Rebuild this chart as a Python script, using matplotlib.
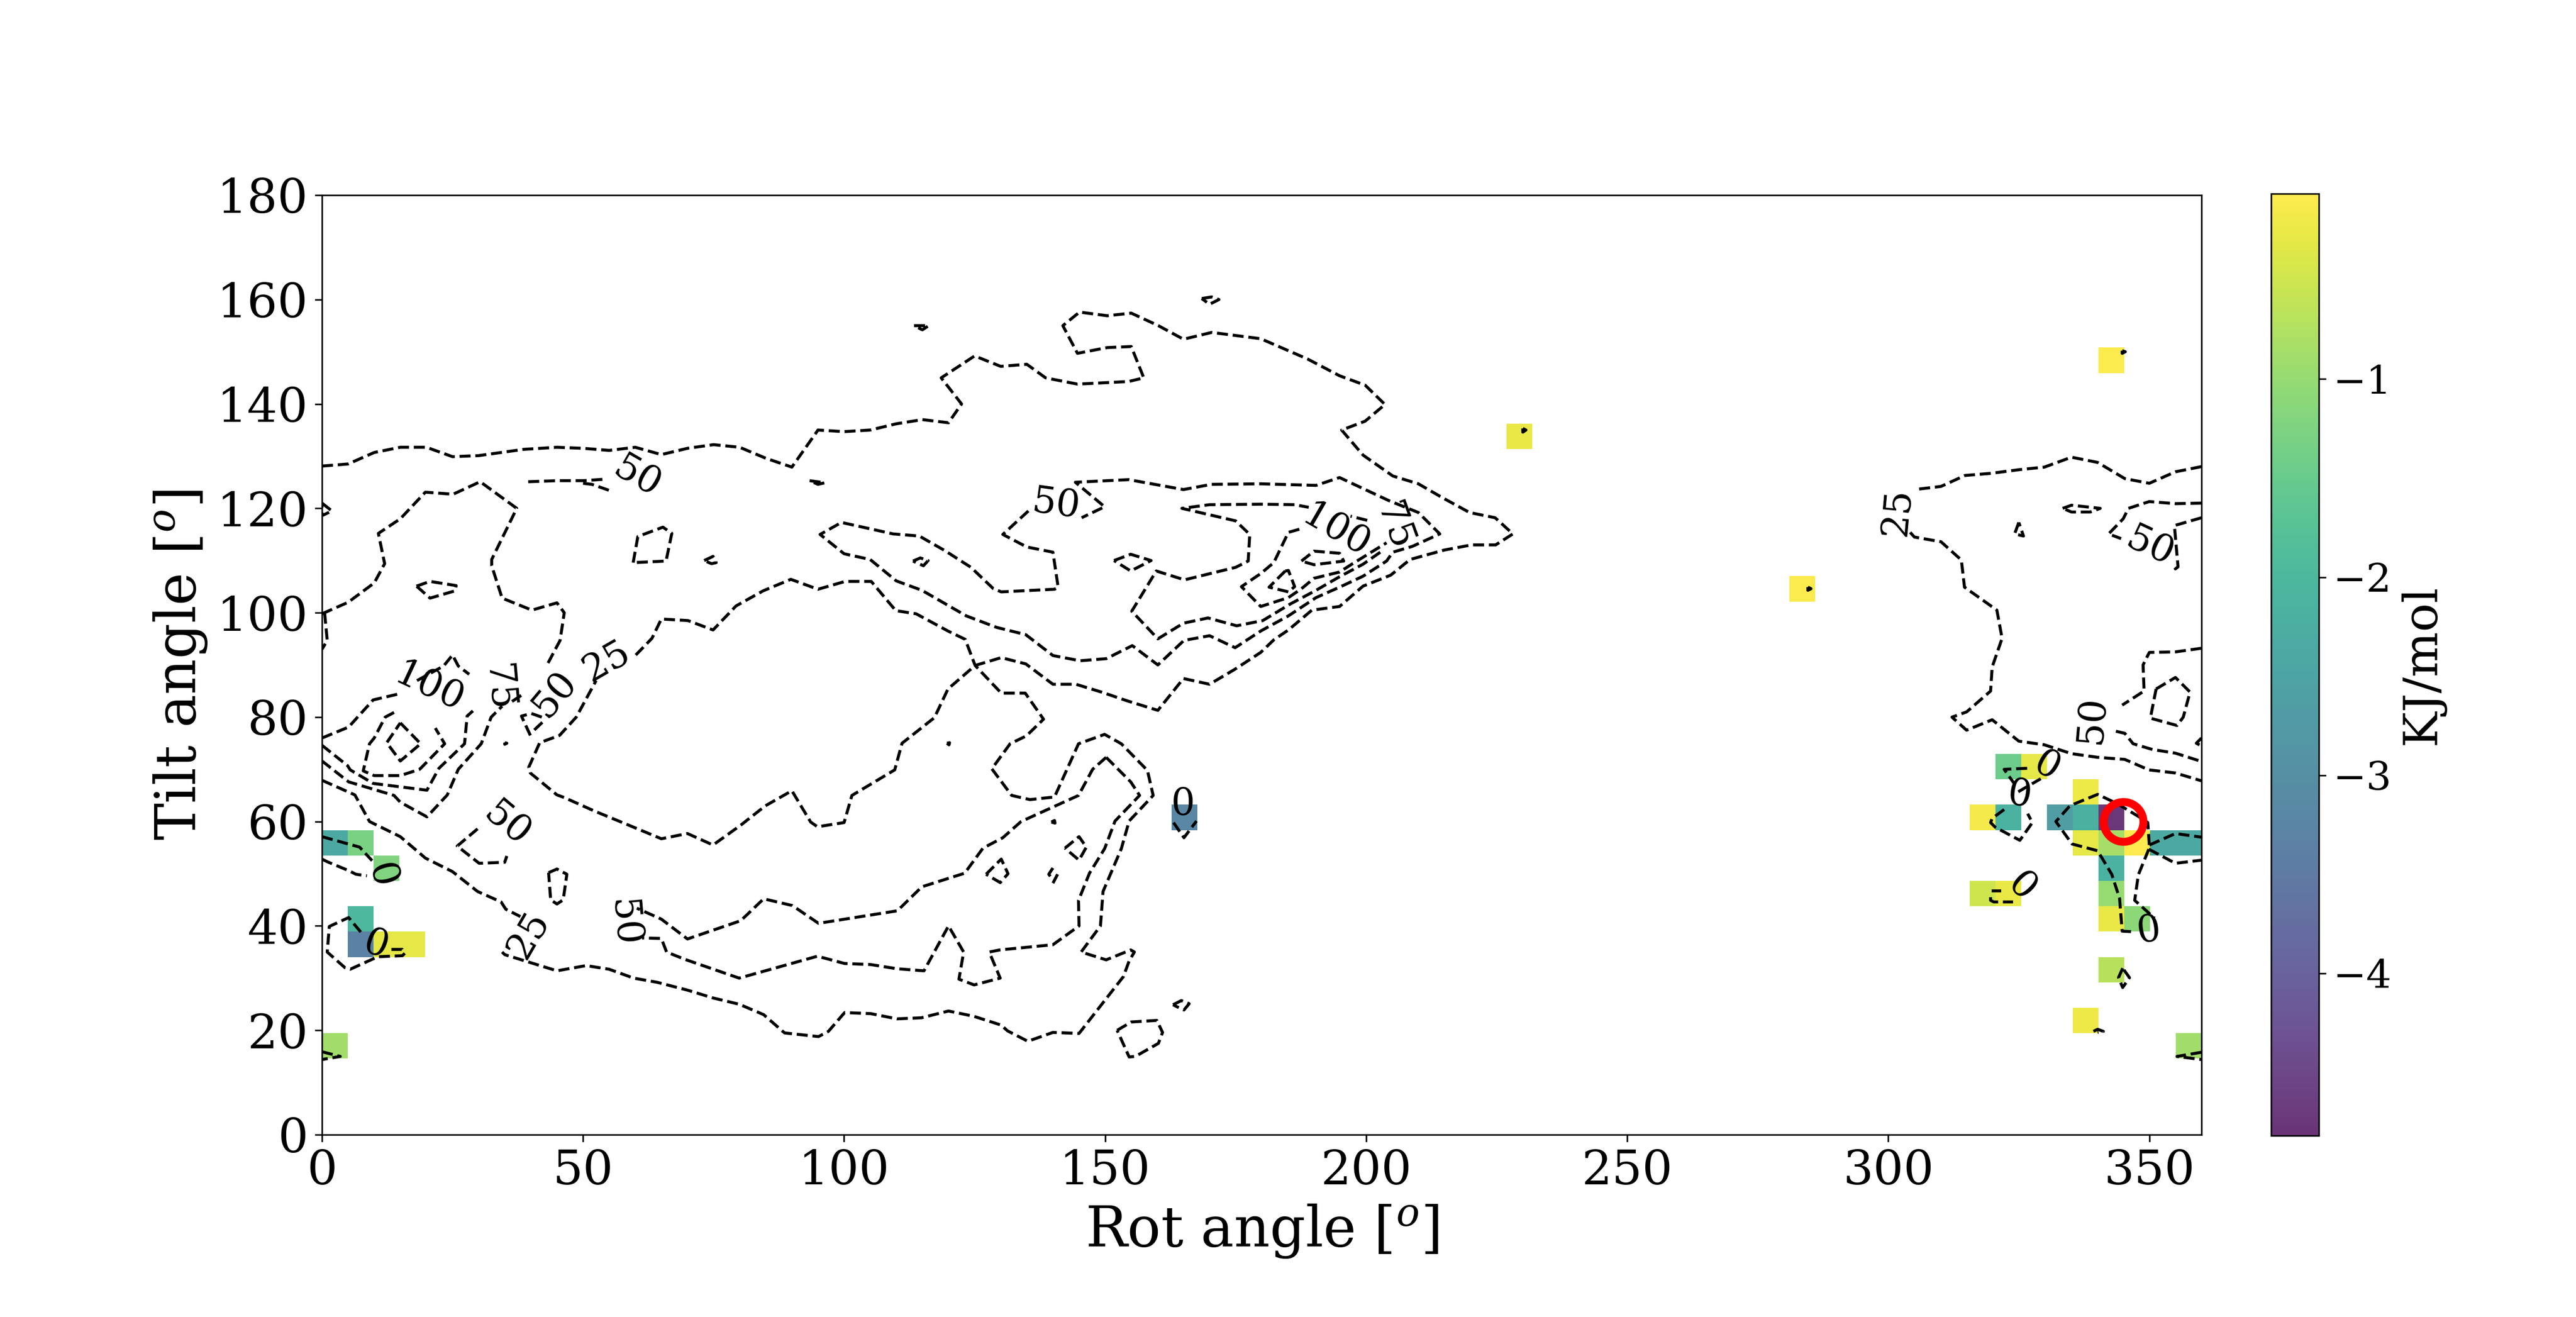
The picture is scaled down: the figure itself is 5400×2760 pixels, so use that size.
import numpy as np
import matplotlib
matplotlib.use("Agg")
import matplotlib.pyplot as plt

plt.rcParams['font.family'] = ['DejaVu Serif']
plt.rcParams['mathtext.fontset'] = 'dejavuserif'

# energy cells on the 73 x 37 grid: (column, row, kJ/mol)
cell_cols = [0, 1, 2, 1, 1, 2, 3, 0, 33, 46, 57, 69,
             65, 66, 68, 64, 65, 67, 68, 69, 68, 69, 70, 71, 72,
             69, 69, 69, 70, 64, 65, 69, 68, 72]
cell_rows = [11, 11, 10, 8, 7, 7, 7, 3, 12, 27, 21, 30,
             14, 14, 13, 12, 12, 12, 12, 12, 11, 11, 11, 11, 11,
             10, 9, 8, 8, 9, 9, 6, 4, 3]
cell_vals = [-2.35, -1.3, -1.2, -2.0, -3.3, -0.3, -0.3, -0.9, -3.2, -0.25, -0.1, -0.1,
             -1.45, -0.3, -0.22, -0.15, -2.15, -2.65, -2.2, -4.75, -0.3, -0.85, -0.07, -2.35, -2.35,
             -2.15, -1.0, -0.25, -1.1, -0.5, -0.25, -0.7, -0.2, -0.9]
energy_min = -4.82
energy_max = -0.064

# open contour lines (rot, tilt)
line_top = [(0,128.1),(5,128.5),(10,130.7),(15,131.7),(20,131.7),(25,129.9),(30,130.1),(38.6,131.3),(45,131.7),(50,131.5),(55,131.1),(60,131.7),(65,130.3),(70,131.5),(75,132.2),(80,131.7),(85,129.6),(90,127.9),(95,135),(100,134.7),(105,135),(110,136.2),(115,137),(120,136.4),(122.5,140),(118.6,145),(125,149.2),(130,147.2),(135,147.6),(138.6,145),(144.7,143.8),(154.5,144.3),(157.4,145),(155,151),(150.4,150.8),(144.7,149.7),(141.9,155),(145.1,157.6),(150.4,156.9),(155,157.4),(160.2,155),(165,152.4),(170.4,153.7),(179.8,152.5),(188.8,148.6),(194.9,145.4),(199.8,143.6),(203.6,139.9),(199.8,136.7),(195.3,135),(199.4,130.2),(205.1,126.2),(210,124.7),(214.5,122.1),(219.8,119.2),(224.7,118.2),(228.1,115.1),(224.8,113),(220.2,113),(214.9,112),(208.4,110.2),(204.7,107.2),(199.4,105.1),(194.9,101.2),(189.6,100.5),(185.1,96.7),(182.3,94.8),(179.8,92.4),(174.9,89.2),(170,86.3),(165,87.4),(160.1,81.3),(154.3,83.1),(149.3,84.8),(144.4,86.3),(140,86.3),(134.8,90.2),(130.1,91.4),(125.1,89.9),(119.9,85.4),(117.3,79.9),(111.1,75),(109.7,69.9),(101.5,65),(100,59.8),(94.9,59),(93.6,59.9),(90,65.9),(84.9,63),(80.2,59.3),(74.9,55.5),(70,57.7),(65,56.7),(57.8,59.7),(52.2,62),(46.4,64.6),(45,65.1),(39.9,69.3),(39.6,70.4),(41.7,75.1),(45.5,76.5),(48.7,80),(52.5,87)]
line_top_b = [(60.1,91.9),(63.2,95.1),(65,98.8),(70.1,98.5),(74.9,96.7),(79.3,101.3),(84.5,104.2),(89.8,106.4),(95,104.5),(100.2,106),(105.2,106),(109.9,100.4),(113.8,99.8),(119.9,96.5),(123.2,94.9),(125.1,89.9),(130.1,84.6),(134.7,84.6),(138.2,79.6),(134.9,76.4),(131.8,74.9),(128.3,70.1),(132.1,65),(135.6,64.2),(140.3,64.7),(144.9,74.9),(149.9,76.7),(153.1,74.9),(158.1,69.8),(159.2,65),(154.6,60.1),(153.1,54.8),(149.6,46.6),(149.1,40),(145.4,35),(150.2,33.5),(154.9,35.4),(155.6,35),(154.6,33.3),(153.5,30.3),(145,19.4),(140,19.6),(135.2,17.9),(131.3,19.9),(130.1,21),(124.8,22.7),(120,23.7),(114.8,22.4),(110.1,22.2),(105.1,23.2),(100.1,23.4),(97,19.8),(95.1,18.8),(88.6,19.5),(84.6,23),(79.9,25),(74.9,26.2),(70,27.7),(64.2,29.2),(59.7,30),(55,31.7),(50.6,32.4),(45,31.4),(35,34.5),(34.5,35)]
line_low_left = [(0,67.9),(6.3,65.1),(9.1,60),(15,57.1),(19.8,53),(25,50.4),(29.8,46.6),(34.3,44.6),(35.2,43.2),(38,41.8)]
line_50_a = [(0,99.8),(5,102),(10,105.7),(12,109.4),(10.8,115.2),(15,118),(19.8,123.1),(25.1,122.7),(30.3,125.1),(37.3,120),(32.5,110.2),(32.5,109),(34.5,102.8),(40.2,100.5),(45,101.9),(46.4,100),(45.6,94.7),(43.1,90)]
line_50_edge = [(0.5,100),(1,94.7),(0,93)]
line_50_b = [(42.1,80),(40.1,80.7),(38.2,80.2),(40,76.3)]
line_50_c = [(42.2,79),(40.3,77.2)]
line_a1 = [(0,76),(5.1,78.1),(9.8,83.3),(14.5,84.4)]
line_a2 = [(18.2,87),(23.3,89.8),(25,91.9),(26.1,89.8),(28.2,88.2)]
line_a3 = [(36.4,83),(38.2,84.2)]
line_b = [(0,74.6),(4.9,70.7),(5.4,69.9),(9.8,67.3),(20.1,66),(22.4,70.2),(27.3,74.9),(27.8,80.2),(28.9,81.2)]
line_c = [(0,71.6),(5.1,67.6),(13.8,65),(15,63.7),(20.1,60.9),(24,65.1),(26.1,70),(30.5,74.9),(32.4,80),(34.5,82.1)]
line_d = [(13.8,80.9),(12.1,80),(10,76),(9.1,74.9),(7.9,69.7),(10,68.8),(15,68.8),(18.7,70),(23.5,74.9),(21.7,77.9)]
line_f = [(29.8,58.6),(25.9,55.3),(30.1,52),(35,52.2),(35.4,53.4)]
line_lobe = [(135.3,119.5),(130.4,115),(135,112.6),(140,111.6),(141,104.9),(140.3,104.5),(130.1,104),(128.6,104.6),(124.3,108.7),(119.3,111.9),(114.4,114.7),(109.4,115.1),(99.5,117.3),(95.4,115),(100,111.3),(105,110.2),(110,106.1),(114.9,104.3),(123.4,99.4),(129.2,97.2),(134.8,95.8),(140,91.8),(145.2,90.8),(150.2,91.2),(155.2,93.7),(160.1,90),(165.1,94.7),(170,95.6),(174.9,93.3),(179.8,96.5),(185.1,99.4),(190.4,102.9),(194.9,104.9),(199.4,107),(203.9,109.9),(205.1,111.6),(208.8,112.7),(214.1,115.1),(210,119.2),(204.3,121.5),(194.9,125.9),(190.4,124.4),(179.8,124.7),(170.4,124.6),(165,123.6),(154.5,125.5),(144.3,125),(149.9,120.3),(145.5,118.2)]
line_3a = [(202.7,111.6),(199.4,109.3),(194.9,106.9),(190.4,104.3),(185.5,101.7),(180.2,98.5),(175.2,97.5),(169.7,99),(165,98),(160.1,95),(155.1,100.3),(159.8,108),(165.2,106.3),(175,108.7),(177.4,109.9),(177.7,115),(175,117.6),(164.7,120),(170,120.7),(179.8,120.8),(186.3,120.7),(189,120.2)]
line_3b = [(200.2,117.7),(197,118.5)]
line_4 = [(187.2,116),(185.1,115.4),(182.3,109.6),(179.8,107.5),(176.1,105),(179.8,101.2),(185.1,102.9),(187.6,104.6),(190,106.6),(194.9,107.8),(197.4,109.4),(203.9,113.4)]
line_mid_up = [(150.2,72.3),(147.6,70),(144.9,65),(133.9,60),(130.4,56.9),(126.6,54.9),(123.1,50.1),(114.9,47.5),(110.2,42.9),(95.1,40.5),(90.1,43.9),(84.6,45.2),(80.2,41),(70,37.5),(65,41.3),(60.3,43.4)]
line_mid_dn = [(150.2,72.3),(154.9,67.6),(156.6,65),(151.9,60.1),(149.9,54.8),(147,50.1),(144.9,44.9),(145,40),(140,36.4),(129.8,35.4),(127.8,35),(129.9,30),(124.9,28.7),(122,29.8),(122.9,35),(120,40),(115.3,31.4),(110.1,31.8),(105.1,32.6),(100.1,32.8),(94.9,34.2),(79.9,30),(69.5,33.6),(66,35),(65,37.6),(61.3,37.7)]
line_r1 = [(360,128),(355,127),(350,124.8),(345.3,125.7),(340.1,128.8),(335.1,129.8),(329.9,127.9),(325,127.4),(319.6,126.7),(314.7,126.3),(310.1,124.2),(305.9,123.7)]
line_r1b = [(304.2,115.4),(305,114.5),(310.1,113.6),(314,110.1),(314.6,104.9),(320.8,100.5),(321.8,95.1),(319.9,89.6),(319.6,85),(315,81),(312.2,80),(315,77.5),(319.9,79.5),(325,75.4),(329.9,74.7),(335.1,73),(340.1,72.3),(345.3,71.9),(349.9,69.9),(355,69.3),(360,67.8)]
line_r2 = [(360,121),(355,120.9),(350,121.3),(346,120),(345,118),(342.2,115.1),(344.6,114.2)]
line_r3 = [(360,118.2),(354.8,116.7),(355.5,108.8),(355,108.4),(354.6,109.2)]
line_r6 = [(360,93.2),(355,92.5),(350,92.4),(348.8,90),(349,85),(344.8,82.3)]
line_r6b = [(343.6,77.3),(345.3,76.9),(346.9,74.9),(350.6,73.8),(355,73.1),(360,71.5)]
line_r8 = [(360,76),(359,75),(360,74.5)]
line_sliver_a = [(39.5,125.1),(45,125.3),(50,125.3),(54.4,125.6)]
line_sliver_b = [(50,124.8),(51.7,124.6),(55.7,123.2)]
line_tiny_a = [(140,51.1),(139.2,49.9),(139.5,49.5)]
line_tiny_b = [(140.9,49.9),(140,48.2)]
open_lines = [line_top, line_top_b, line_low_left, line_50_a, line_50_edge, line_50_b, line_50_c,
              line_a1, line_a2, line_a3, line_b, line_c, line_d, line_f, line_lobe, line_3a, line_3b,
              line_4, line_mid_up, line_mid_dn, line_r1, line_r1b, line_r2, line_r3, line_r6, line_r6b, line_r8,
              line_sliver_a, line_sliver_b, line_tiny_a, line_tiny_b]

# closed contour loops (rot, tilt)
closed_lines = [
    [(15,78.9),(18.9,74.9),(15,71.6),(12.4,75.1)],
    [(43.4,50.2),(45,50.9),(46.9,49.9),(46.2,45),(45,44.2),(43.8,45)],
    [(59.6,109.6),(60.5,114.6),(65.3,116.4),(67,115.2),(65.9,109.9)],
    [(73.2,110),(74.9,110.8),(75.5,109.6),(74.6,109.4)],
    [(18.1,105.1),(20.7,106),(25.7,105.2),(25.5,104.2),(20.7,102.8)],
    [(113.4,155),(116.2,155),(115,154.2)],
    [(93.4,125.3),(96.3,124.9),(95,124.6)],
    [(187.6,109.9),(190,111.8),(194.9,111.4),(195.7,109.9),(190,109.2)],
    [(184.5,108),(181.4,104.9),(185.1,104),(186.3,105),(185.1,108.1)],
    [(151.7,110),(154.9,111.2),(158.8,110),(154.9,108)],
    [(113.2,109.9),(114.6,110.5),(116.1,110),(115.2,109)],
    [(168.5,160.2),(170.4,160.5),(171.8,160),(170,159.1)],
    [(142.3,54.9),(145,57.1),(146.4,55.1),(145,52.6)],
    [(127.2,49.9),(130.1,52.8),(131.4,50),(129.9,48.3)],
    [(152.3,20),(155,21.6),(159.9,21.9),(161,19.6),(160.2,17.5),(155.8,15),(154.6,14.9)],
    [(163,24.9),(164.6,25.7),(166.1,25.1),(165.1,23.9),(164.2,24.3)],
    [(333.4,120),(335.1,120.6),(340.6,120),(338.7,119.3),(335.1,119.3)],
    [(325,117.3),(324.2,115.1),(325.9,114.7)],
    [(351.3,85.4),(355,87.6),(357.8,84.8),(356.5,80),(355.3,78.4),(350.2,79.8)],
    [(344.9,31.9),(344.1,30.1),(344.9,28.2),(346.2,30.1)],
    [(0,121),(1.9,119.5),(0,118.6)],
    [(230,135.3),(230.6,135),(230,134.6)],
    [(284.6,104.9),(285.2,104.6),(284.6,104.3)],
    [(344.8,150.2),(345.4,150),(344.8,149.7)],
    [(119.7,75),(120.2,75.1),(120.1,74.7)],
    [(35,75.1),(35.4,75),(35,74.8)],
    [(139.7,59.9),(140.3,60.2),(140.4,59.7)],
]

# zero-level contour pieces (rot, tilt)
zero_lines = [
    [(0,57.1),(7.2,55.1),(9.6,52.5)],
    [(0,52.8),(1,52.3),(5.1,50.6),(6.5,49.9),(8.6,49.6)],
    [(13.3,35.5),(15.4,35.5),(15.9,34.8),(15.4,34.3),(10.7,34.1),(5.4,31.7),(4.4,32),(1,35),(1.4,39.9),(5.1,41.6),(7.7,38.5)],
    [(0,15.9),(3.5,15),(0,14.4)],
    [(163.1,59.8),(165.1,56.9),(167.5,60.1)],
    [(326.6,70.2),(322.2,70),(324.1,67.3)],
    [(324.9,65.7),(329.2,68.2)],
    [(322.2,62.3),(319.9,60.6),(319.6,59.8),(320.5,58.9),(325.2,56.4),(327.6,59.8),(326.7,61.5)],
    [(350,55.5),(349.7,59.8),(348.2,60.8),(343.9,63.4),(340.1,65.2),(335.7,63.4),(334.6,62.8),(332.1,60),(335.2,55.7),(340.1,54.4),(342.8,49.9),(344.3,45.3),(344.8,39),(346.6,38.9)],
    [(350,55.5),(355,57.7),(360,57)],
    [(349.9,54.7),(355,52),(360,52.6)],
    [(349.9,54.7),(347.9,49.8),(347.2,44.9),(351,41.5)],
    [(321.6,46.7),(319.8,46.7)],
    [(319.6,45.5),(319.6,44.9),(320.2,44.6),(323.9,44.6)],
    [(339.3,19.8),(340.1,20.2),(341.2,19.8),(340.1,19.6)],
    [(360,15.8),(355.3,15),(360,14.4)],
]

# contour labels
label_text = ['50', '100', '75', '50', '25', '50', '25', '50', '0', '0', '0', '50', '100', '75',
              '25', '50', '50', '0', '0', '0', '0']
label_x = [60.3, 20.5, 33.8, 44.5, 54.5, 35.4, 39.6, 57.8, 11.4, 10.3, 164.9, 140.6, 194.2, 205.3,
           301.7, 350.1, 339, 330.4, 325.2, 325.6, 349.9]
label_y = [126, 85.7, 85.6, 84.4, 90.7, 59.5, 38.3, 40.6, 49.6, 36.4, 63.3, 120.7, 115.7, 116.5,
           119.3, 112.7, 79.5, 70.6, 65.1, 47.5, 39.1]
label_rot = [-30, -25, -85, 50, 30, -40, 60, -85, -75, -20, 0, -8, -30, -70,
             85, -25, 85, -30, -8, -45, 8]

best_rot = [345]
best_tilt = [60]

x_ticks = [0, 50, 100, 150, 200, 250, 300, 350]
y_ticks = [0, 20, 40, 60, 80, 100, 120, 140, 160, 180]
cbar_ticks = [-1, -2, -3, -4]

W, H = 5400, 2760
fig = plt.figure(figsize=(18, 9.2), dpi=300)
ax = fig.add_axes([675/W, (H-2378)/H, 3940/W, 1969/H])
cax = fig.add_axes([4761/W, (H-2380)/H, 100/W, 1974/H])

grid = np.full((37, 73), np.nan)
for c, r, v in zip(cell_cols, cell_rows, cell_vals):
    grid[r, c] = v
im = ax.imshow(grid, origin='lower', extent=[0, 360, 0, 180], aspect='auto',
               cmap='viridis', vmin=energy_min, vmax=energy_max, alpha=0.8,
               interpolation='nearest')

def draw(points, closed=False):
    xy = np.array(list(points) + ([points[0]] if closed else []))
    ax.plot(xy[:, 0], xy[:, 1], color='k', ls='--', lw=1.5)

for seg in open_lines + zero_lines:
    draw(seg)
for seg in closed_lines:
    draw(seg, closed=True)

for t, x, y, r in zip(label_text, label_x, label_y, label_rot):
    ax.text(x, y, t, fontsize=19, rotation=r, rotation_mode='anchor', ha='center', va='center')

ax.plot(best_rot, best_tilt, 'o', ms=20, mfc='none', mec='red', mew=4)

ax.set_xlim(0, 360)
ax.set_ylim(0, 180)
ax.set_xticks(x_ticks)
ax.set_yticks(y_ticks)
ax.tick_params(labelsize=24)
ax.set_xlabel('Rot angle [$^o$]', fontsize=28, labelpad=4)
ax.set_ylabel('Tilt angle [$^o$]', fontsize=28, labelpad=4)

cb = fig.colorbar(im, cax=cax)
cb.set_ticks(cbar_ticks)
cb.ax.tick_params(labelsize=20)
cb.set_label('KJ/mol', fontsize=24)

fig.savefig('out.png', dpi=300)
